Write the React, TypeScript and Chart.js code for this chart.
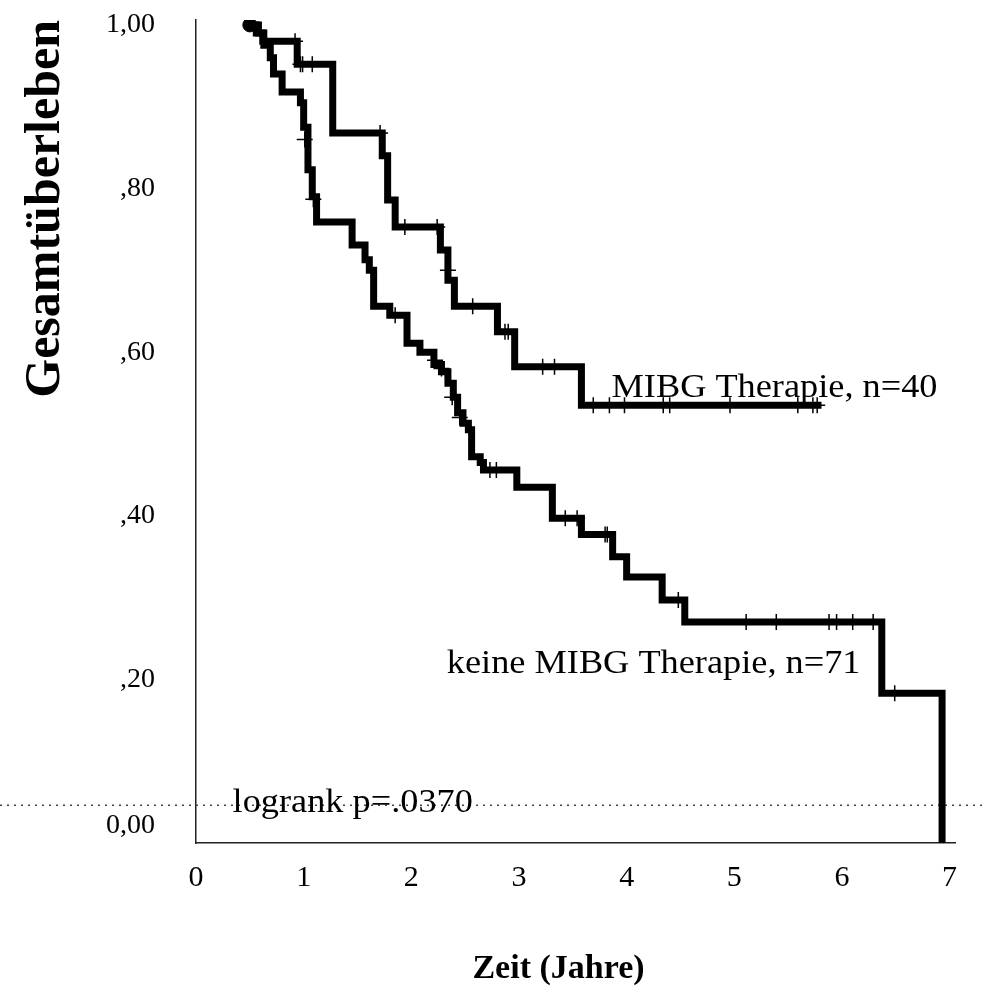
import React, { useEffect, useRef } from 'react';
import { Chart, registerables } from 'chart.js';

Chart.register(...registerables);

const FONT = '"Liberation Serif", "Times New Roman", Times, serif';

// Kaplan-Meier step curve: MIBG Therapie (n=40)
const mibgTimes = [0.50, 0.58, 0.62, 0.94, 1.27, 1.73, 1.78, 1.85, 2.27, 2.34, 2.40, 2.80, 2.96, 3.58, 5.81];
const mibgSurvival = [1.000, 0.990, 0.980, 0.952, 0.868, 0.840, 0.786, 0.753, 0.725, 0.688, 0.656, 0.625, 0.582, 0.535, 0.535];
const mibgCensorTimes = [0.92, 0.97, 0.99, 1.08, 1.71, 1.94, 2.24, 2.34, 2.57, 2.87, 2.90, 3.22, 3.33, 3.69, 3.84, 3.98, 4.34, 4.40, 4.96, 5.59, 5.73, 5.77];
const mibgCensorSurvival = [0.980, 0.952, 0.952, 0.952, 0.868, 0.753, 0.753, 0.700, 0.656, 0.625, 0.625, 0.582, 0.582, 0.535, 0.535, 0.535, 0.535, 0.535, 0.535, 0.535, 0.535, 0.535];

// Kaplan-Meier step curve: keine MIBG Therapie (n=71)
const keineTimes = [0.50, 0.56, 0.63, 0.69, 0.72, 0.80, 0.97, 1.00, 1.04, 1.08, 1.12, 1.45, 1.57, 1.61, 1.65, 1.80, 1.96, 2.08, 2.21, 2.28, 2.34, 2.39, 2.43, 2.48, 2.53, 2.56, 2.64, 2.67, 2.98, 3.31, 3.58, 3.87, 4.00, 4.33, 4.54, 6.37, 6.93];
const keineSurvival = [1.000, 0.990, 0.975, 0.960, 0.940, 0.918, 0.905, 0.875, 0.823, 0.790, 0.759, 0.731, 0.713, 0.700, 0.656, 0.645, 0.611, 0.600, 0.585, 0.576, 0.562, 0.545, 0.526, 0.513, 0.505, 0.472, 0.465, 0.456, 0.435, 0.397, 0.377, 0.350, 0.325, 0.297, 0.270, 0.183, 0.000];
const keineCensorTimes = [1.01, 1.09, 1.85, 2.22, 2.28, 2.38, 2.45, 2.73, 2.79, 3.43, 3.54, 3.80, 3.82, 4.48, 5.11, 5.39, 5.88, 5.95, 6.10, 6.29, 6.49];
const keineCensorSurvival = [0.860, 0.787, 0.645, 0.590, 0.580, 0.545, 0.520, 0.456, 0.456, 0.397, 0.397, 0.377, 0.377, 0.297, 0.270, 0.270, 0.270, 0.270, 0.270, 0.270, 0.183];

const startTime = [0.5];
const startSurvival = [1.0];

const xTickValues = [0, 1, 2, 3, 4, 5, 6, 7];
const xTickLabels = ['0', '1', '2', '3', '4', '5', '6', '7'];
const yTickValues = [0, 0.2, 0.4, 0.6, 0.8, 1.0];
const yTickLabels = ['0,00', ',20', ',40', ',60', ',80', '1,00'];

const annotationTexts = ['MIBG Therapie, n=40', 'keine MIBG Therapie, n=71', 'logrank p=.0370'];
const annotationX = [3.86, 2.33, 0.34];
const annotationY = [0.556, 0.218, 0.049];
const dottedLineValue = 0.046;

const toPoints = (xs: number[], ys: number[]) => xs.map((x, i) => ({ x, y: ys[i] }));

const annotationPlugin = {
  id: 'kmAnnotations',
  beforeDatasetsDraw(chart: any) {
    const { ctx, scales, width } = chart;
    const py = scales.y.getPixelForValue(dottedLineValue);
    ctx.save();
    ctx.strokeStyle = '#444';
    ctx.lineWidth = 1.5;
    ctx.setLineDash([2, 5]);
    ctx.beginPath();
    ctx.moveTo(0, py);
    ctx.lineTo(width, py);
    ctx.stroke();
    ctx.restore();
  },
  afterDatasetsDraw(chart: any) {
    const { ctx, scales } = chart;
    ctx.save();
    ctx.fillStyle = '#000';
    ctx.font = `33px ${FONT}`;
    ctx.textBaseline = 'middle';
    ctx.textAlign = 'left';
    annotationTexts.forEach((t, i) => {
      ctx.save();
      ctx.translate(scales.x.getPixelForValue(annotationX[i]), scales.y.getPixelForValue(annotationY[i]));
      ctx.scale(1.1, 1);
      ctx.fillText(t, 0, 0);
      ctx.restore();
    });
    ctx.restore();
  },
};

export default function App() {
  const canvasRef = useRef<HTMLCanvasElement | null>(null);

  useEffect(() => {
    if (!canvasRef.current) return;
    const lineCommon = {
      borderColor: '#000',
      borderWidth: 7,
      pointRadius: 0,
      stepped: 'before' as const,
      fill: false,
      borderJoinStyle: 'miter' as const,
      borderCapStyle: 'butt' as const,
      tension: 0,
    };
    const censorCommon = {
      showLine: false,
      pointStyle: 'cross' as const,
      pointRadius: 8,
      pointBorderWidth: 1.5,
      borderColor: '#000',
      backgroundColor: '#000',
    };
    const chart = new Chart(canvasRef.current, {
      type: 'line',
      data: {
        datasets: [
          { label: 'Start', data: toPoints(startTime, startSurvival), showLine: false, pointRadius: 7, pointBackgroundColor: '#000', pointBorderColor: '#000', borderColor: '#000', backgroundColor: '#000' } as any,
          { label: 'MIBG zensiert', data: toPoints(mibgCensorTimes, mibgCensorSurvival), ...censorCommon } as any,
          { label: 'keine MIBG zensiert', data: toPoints(keineCensorTimes, keineCensorSurvival), ...censorCommon } as any,
          { label: 'MIBG Therapie, n=40', data: toPoints(mibgTimes, mibgSurvival), ...lineCommon } as any,
          { label: 'keine MIBG Therapie, n=71', data: toPoints(keineTimes, keineSurvival), ...lineCommon } as any,
        ],
      },
      options: {
        animation: false,
        responsive: false,
        devicePixelRatio: 1,
        parsing: false,
        layout: { padding: { left: 0, top: 20, right: 27, bottom: 0 } },
        plugins: {
          legend: { display: false },
          tooltip: { enabled: false },
        },
        scales: {
          x: {
            type: 'linear',
            min: 0,
            max: 7.05,
            grid: { display: false, drawTicks: false },
            border: { display: true, color: '#222', width: 1.5 },
            afterBuildTicks: (scale: any) => {
              scale.ticks = xTickValues.map((v) => ({ value: v }));
            },
            afterFit: (scale: any) => {
              scale.height = 151;
              scale.paddingLeft = 0;
              scale.paddingRight = 0;
            },
            ticks: {
              autoSkip: false,
              maxRotation: 0,
              padding: 17,
              color: '#000',
              font: { family: FONT, size: 30 },
              callback: (_v: any, i: number) => xTickLabels[i],
            },
            title: {
              display: true,
              text: 'Zeit (Jahre)    ',
              color: '#000',
              font: { family: FONT, size: 34, weight: 'bold' },
              padding: { top: 0, bottom: 4 },
            },
          },
          y: {
            type: 'linear',
            min: 0,
            max: 1.006,
            grid: { display: false, drawTicks: false },
            border: { display: true, color: '#222', width: 1.5 },
            afterBuildTicks: (scale: any) => {
              scale.ticks = yTickValues.map((v) => ({ value: v }));
            },
            afterFit: (scale: any) => {
              scale.width = 196;
              scale.paddingTop = 0;
              scale.paddingBottom = 0;
            },
            ticks: {
              padding: 41,
              color: '#000',
              font: { family: FONT, size: 28, lineHeight: 1.25 },
              callback: (_v: any, i: number) => (i === 0 ? [yTickLabels[i], ''] : yTickLabels[i]),
            },
            title: {
              display: true,
              text: 'Gesamtüberleben',
              align: 'end',
              color: '#000',
              font: { family: FONT, size: 50, weight: 'bold' },
              padding: { top: 16, bottom: 0 },
            },
          },
        },
      } as any,
      plugins: [annotationPlugin],
    });
    return () => chart.destroy();
  }, []);

  return (
    <div style={{ position: 'absolute', left: 0, top: 0, width: 982, height: 994, background: '#fff' }}>
      <canvas ref={canvasRef} width={982} height={994} style={{ width: 982, height: 994, display: 'block' }} />
    </div>
  );
}
